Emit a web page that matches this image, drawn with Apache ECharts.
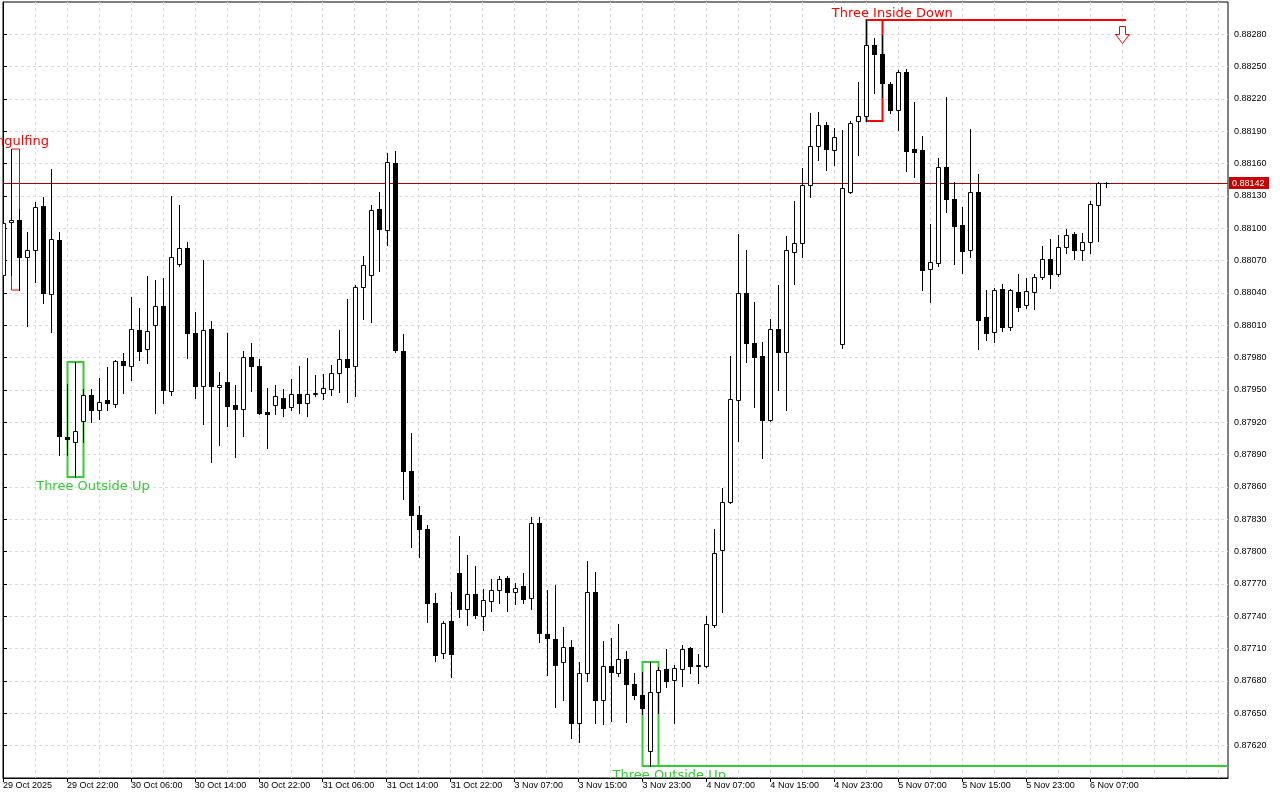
<!DOCTYPE html>
<html><head><meta charset="utf-8">
<script src="https://cdn.jsdelivr.net/npm/echarts/dist/echarts.min.js"></script>
<style>html,body{margin:0;padding:0;background:#fff}#chart{width:1280px;height:800px}</style>
</head><body><div id="chart"></div>
<script>
// ---- data (hourly bars, 29 Oct 14:00 .. 6 Nov 08:00) ----
const openP = [0.88057,0.88106,0.88108,0.88073,0.88080,0.88121,0.88039,0.88089,0.87906,0.87902,
0.87921,0.87945,0.87931,0.87941,0.87937,0.87977,0.87972,0.88006,0.87988,0.88010,
0.88028,0.87949,0.88067,0.88082,0.88003,0.87954,0.88007,0.87953,0.87957,0.87936,
0.87932,0.87981,0.87972,0.87930,0.87936,0.87943,0.87934,0.87946,0.87938,0.87946,
0.87947,0.87951,0.87966,0.87979,0.87972,0.88046,0.88057,0.88118,0.88098,0.88161,
0.87986,0.87875,0.87834,0.87821,0.87752,0.87706,0.87736,0.87780,0.87747,0.87761,
0.87740,0.87754,0.87764,0.87776,0.87763,0.87768,0.87757,0.87827,0.87724,0.87719,
0.87698,0.87712,0.87641,0.87687,0.87763,0.87662,0.87694,0.87687,0.87700,0.87677,
0.87667,0.87615,0.87670,0.87691,0.87681,0.87691,0.87711,0.87694,0.87694,0.87732,
0.87802,0.87846,0.87941,0.88040,0.87994,0.87982,0.87922,0.88007,0.87985,0.88078,
0.88086,0.88140,0.88176,0.88196,0.88173,0.87993,0.88134,0.88200,0.88204,0.88270,
0.88262,0.88234,0.88210,0.88245,0.88174,0.88173,0.88062,0.88068,0.88157,0.88127,
0.88103,0.88080,0.88134,0.88018,0.88004,0.88044,0.88008,0.88041,0.88029,0.88041,
0.88055,0.88072,0.88058,0.88083,0.88095,0.88080,0.88087,0.88122,0.88142];
const highP = [0.88110,0.88174,0.88118,0.88097,0.88124,0.88129,0.88155,0.88097,0.87956,0.87976,
0.87951,0.87951,0.87961,0.87971,0.87978,0.87984,0.88036,0.88026,0.88056,0.88052,
0.88054,0.88130,0.88122,0.88087,0.88022,0.88071,0.88014,0.87967,0.88003,0.87955,
0.87986,0.87994,0.87979,0.87952,0.87955,0.87951,0.87960,0.87972,0.87980,0.87964,
0.87965,0.87973,0.88006,0.88034,0.88047,0.88074,0.88122,0.88134,0.88170,0.88172,
0.88002,0.87910,0.87842,0.87825,0.87762,0.87736,0.87763,0.87815,0.87797,0.87787,
0.87765,0.87775,0.87777,0.87777,0.87771,0.87780,0.87832,0.87832,0.87764,0.87769,
0.87730,0.87718,0.87698,0.87791,0.87781,0.87717,0.87720,0.87733,0.87708,0.87687,
0.87688,0.87698,0.87693,0.87710,0.87695,0.87713,0.87712,0.87705,0.87740,0.87821,
0.87859,0.87982,0.88095,0.88080,0.88032,0.87995,0.88016,0.88047,0.88093,0.88125,
0.88156,0.88207,0.88208,0.88199,0.88193,0.88191,0.88200,0.88236,0.88293,0.88277,
0.88279,0.88236,0.88247,0.88248,0.88217,0.88186,0.88104,0.88165,0.88222,0.88143,
0.88120,0.88192,0.88150,0.88043,0.88045,0.88048,0.88044,0.88058,0.88054,0.88058,
0.88084,0.88090,0.88094,0.88099,0.88097,0.88096,0.88125,0.88143,0.88143];
const lowP = [0.88052,0.88057,0.88043,0.88009,0.88050,0.88031,0.88004,0.87890,0.87890,0.87869,
0.87902,0.87920,0.87923,0.87931,0.87934,0.87947,0.87959,0.87978,0.87975,0.87929,
0.87938,0.87945,0.88065,0.87980,0.87943,0.87918,0.87883,0.87899,0.87917,0.87888,
0.87907,0.87949,0.87928,0.87896,0.87928,0.87926,0.87931,0.87929,0.87926,0.87944,
0.87942,0.87945,0.87948,0.87939,0.87944,0.88016,0.88013,0.88060,0.88085,0.87985,
0.87849,0.87804,0.87795,0.87735,0.87699,0.87701,0.87684,0.87739,0.87732,0.87738,
0.87727,0.87745,0.87752,0.87745,0.87751,0.87752,0.87747,0.87716,0.87686,0.87656,
0.87662,0.87627,0.87623,0.87680,0.87641,0.87640,0.87643,0.87685,0.87642,0.87663,
0.87649,0.87601,0.87650,0.87674,0.87641,0.87675,0.87687,0.87678,0.87693,0.87730,
0.87744,0.87845,0.87903,0.87976,0.87934,0.87887,0.87921,0.87950,0.87931,0.88048,
0.88073,0.88129,0.88163,0.88154,0.88159,0.87989,0.88133,0.88168,0.88200,0.88226,
0.88222,0.88207,0.88191,0.88153,0.88148,0.88043,0.88032,0.88065,0.88115,0.88067,
0.88059,0.88073,0.87988,0.87996,0.87995,0.88005,0.88006,0.88023,0.88026,0.88025,
0.88053,0.88045,0.88056,0.88077,0.88072,0.88071,0.88077,0.88088,0.88138];
const closeP = [0.88105,0.88108,0.88073,0.88080,0.88120,0.88040,0.88090,0.87907,0.87905,0.87912,
0.87945,0.87931,0.87939,0.87938,0.87977,0.87973,0.88007,0.87986,0.88005,0.88028,
0.87950,0.88073,0.88082,0.88003,0.87954,0.88006,0.87954,0.87955,0.87935,0.87932,
0.87981,0.87972,0.87929,0.87928,0.87944,0.87933,0.87946,0.87938,0.87946,0.87947,
0.87952,0.87966,0.87979,0.87971,0.88046,0.88066,0.88117,0.88099,0.88162,0.87987,
0.87875,0.87834,0.87821,0.87752,0.87704,0.87734,0.87705,0.87747,0.87761,0.87741,
0.87755,0.87764,0.87775,0.87763,0.87766,0.87756,0.87827,0.87725,0.87720,0.87695,
0.87712,0.87641,0.87687,0.87763,0.87662,0.87694,0.87688,0.87700,0.87677,0.87667,
0.87655,0.87670,0.87690,0.87680,0.87692,0.87710,0.87694,0.87695,0.87733,0.87799,
0.87846,0.87942,0.88040,0.87994,0.87981,0.87922,0.88007,0.87985,0.88080,0.88086,
0.88140,0.88176,0.88196,0.88174,0.88185,0.88137,0.88198,0.88204,0.88270,0.88262,
0.88235,0.88210,0.88245,0.88172,0.88171,0.88061,0.88069,0.88157,0.88127,0.88102,
0.88079,0.88134,0.88015,0.88003,0.88043,0.88008,0.88043,0.88027,0.88042,0.88055,
0.88072,0.88058,0.88083,0.88094,0.88080,0.88087,0.88123,0.88142,0.88142];
const timeTickLabels = ['29 Oct 2025','29 Oct 22:00','30 Oct 06:00','30 Oct 14:00','30 Oct 22:00',
'31 Oct 06:00','31 Oct 14:00','31 Oct 22:00','3 Nov 07:00','3 Nov 15:00','3 Nov 23:00',
'4 Nov 07:00','4 Nov 15:00','4 Nov 23:00','5 Nov 07:00','5 Nov 15:00','5 Nov 23:00','6 Nov 07:00'];
const barsPerTimeLabel = 8;
const priceMin = 0.87590, priceMax = 0.88310, priceStep = 0.00030;
const lastPrice = 0.88142;
// candlestick patterns: bar range and price range
const patternNames = ['Bearish Engulfing','Three Outside Up','Three Outside Up','Three Inside Down'];
const patternFrom = [1, 8, 80, 108];
const patternTo = [2, 10, 82, 110];
const patternHigh = [0.88174, 0.87976, 0.87698, 0.88293];
const patternLow = [0.88043, 0.87869, 0.87601, 0.88200];
const patternBullish = [false, true, true, false];

// ---- presentation ----
const RED = '#ff0000', GREEN = '#32cd32';
const patternStyle = [
  {lw: 1, textAt: 5.75, textDy: -7, align: 'right', clipText: false, extend: null, arrowAt: null},
  {lw: 2, textAt: 11.25, textDy: 10, align: 'center', clipText: true, extend: null, arrowAt: null},
  {lw: 2, textAt: 83.35, textDy: 10, align: 'center', clipText: true, extend: 'edge', arrowAt: null},
  {lw: 2, textAt: 111.25, textDy: -6, align: 'center', clipText: true, extend: 140.5, arrowAt: 140}
];
const nBars = openP.length;
const xMax = 1226 / 8;
const candleData = openP.map((o, i) => [i, o, highP[i], lowP[i], closeP[i]]);
const labelIdx = timeTickLabels.map((_, k) => k * barsPerTimeLabel);

function renderCandle(params, api) {
  const i = api.value(0), o = api.value(1), h = api.value(2), l = api.value(3), c = api.value(4);
  const po = api.coord([i, o]), pc = api.coord([i, c]), ph = api.coord([i, h]), pl = api.coord([i, l]);
  const x = Math.round(po[0]);
  const yO = Math.round(po[1]), yC = Math.round(pc[1]);
  const top = Math.min(yO, yC), bot = Math.max(yO, yC);
  const ch = [{type: 'line', shape: {x1: x + 0.5, y1: Math.round(ph[1]), x2: x + 0.5, y2: Math.round(pl[1]) + 1},
    style: {stroke: '#000', lineWidth: 1}}];
  if (bot - top < 1) {
    ch.push({type: 'line', shape: {x1: x - 2, y1: top + 0.5, x2: x + 3, y2: top + 0.5}, style: {stroke: '#000', lineWidth: 1}});
  } else if (c > o) {
    ch.push({type: 'rect', shape: {x: x - 1.5, y: top + 0.5, width: 4, height: bot - top}, style: {fill: '#fff', stroke: '#000', lineWidth: 1}});
  } else {
    ch.push({type: 'rect', shape: {x: x - 2, y: top, width: 5, height: bot - top + 1}, style: {fill: '#000'}});
  }
  return {type: 'group', children: ch};
}

function patternText(k, api) {
  const st = patternStyle[k];
  const bull = patternBullish[k];
  const ay = Math.round(api.coord([patternFrom[k], patternHigh[k]])[1]);
  const by = Math.round(api.coord([patternTo[k], patternLow[k]])[1]);
  const tx = api.coord([st.textAt, patternHigh[k]])[0];
  return {type: 'text', x: tx, y: (bull ? by : ay) + st.textDy, style: {text: patternNames[k], fill: bull ? GREEN : RED,
    font: '13px "DejaVu Sans"', align: st.align, verticalAlign: 'middle'}};
}

function renderPattern(params, api) {
  const k = api.value(0);
  const st = patternStyle[k];
  const cs = params.coordSys;
  const a = api.coord([patternFrom[k], patternHigh[k]]);
  const b = api.coord([patternTo[k], patternLow[k]]);
  const bull = patternBullish[k];
  const color = bull ? GREEN : RED;
  const ax = Math.round(a[0]) + 0.5, bx = Math.round(b[0]) + 0.5;
  const ay = Math.round(a[1]), by = Math.round(b[1]);
  const ch = [{type: 'rect', shape: {x: ax, y: ay, width: bx - ax, height: by - ay},
    style: {fill: 'none', stroke: color, lineWidth: st.lw}}];
  if (st.extend !== null) {
    const yl = bull ? by : ay;
    const xe = st.extend === 'edge' ? cs.x + cs.width : api.coord([st.extend, patternHigh[k]])[0];
    ch.push({type: 'line', shape: {x1: bx, y1: yl, x2: xe, y2: yl}, style: {stroke: color, lineWidth: st.lw}});
  }
  if (st.clipText) ch.push(patternText(k, api));
  if (st.arrowAt !== null) {
    const cx = Math.round(api.coord([st.arrowAt, patternHigh[k]])[0]) + 0.5;
    const t = ay + 6.5;
    ch.push({type: 'polygon', shape: {points: [[cx - 3, t], [cx + 3, t], [cx + 3, t + 8], [cx + 7, t + 8], [cx, t + 17], [cx - 7, t + 8], [cx - 3, t + 8]]},
      style: {fill: '#fff', stroke: RED, lineWidth: 1}});
  }
  return {type: 'group', children: ch};
}

function renderFreeText(params, api) {
  const k = api.value(0);
  if (patternStyle[k].clipText) return {type: 'group', children: []};
  return patternText(k, api);
}

function renderLastPrice(params, api) {
  const cs = params.coordSys;
  const y = Math.round(api.coord([0, api.value(1)])[1]) + 0.5;
  const xr = cs.x + cs.width;
  return {type: 'group', children: [
    {type: 'line', shape: {x1: cs.x, y1: y, x2: xr, y2: y}, style: {stroke: '#b00000', lineWidth: 1}},
    {type: 'rect', shape: {x: xr + 1, y: y - 6.5, width: 40, height: 12}, style: {fill: '#c80000'}},
    {type: 'text', x: xr + 4, y: y, style: {text: api.value(1).toFixed(5), fill: '#fff',
      font: '9px "Liberation Sans", Arial, sans-serif', align: 'left', verticalAlign: 'middle'}}
  ]};
}

const gridLine = {color: '#dadada', type: [3, 3], width: 1};
const axisFont = {fontFamily: '"Liberation Sans", Arial, sans-serif', fontSize: 9, color: '#000'};

const chart = echarts.init(document.getElementById('chart'), null, {renderer: 'canvas'});
chart.setOption({
  animation: false,
  backgroundColor: '#fff',
  grid: {left: 2, right: 52, top: 2, bottom: 22, show: true, borderColor: '#000', borderWidth: 1, backgroundColor: 'transparent'},
  xAxis: [
    {type: 'value', min: 0, max: xMax, interval: 4, position: 'bottom',
     axisLine: {show: false}, axisTick: {show: false}, axisLabel: {show: false},
     splitLine: {show: true, showMinLine: false, showMaxLine: false, lineStyle: gridLine}},
    {type: 'value', min: 0, max: xMax, position: 'bottom',
     axisLine: {show: true, lineStyle: {color: '#000', width: 1}},
     axisTick: {show: true, length: 4, customValues: labelIdx, lineStyle: {color: '#000'}},
     axisLabel: Object.assign({show: true, customValues: labelIdx, align: 'left', margin: 3,
       formatter: v => timeTickLabels[Math.round(v / barsPerTimeLabel)] || ''}, axisFont),
     splitLine: {show: false}}
  ],
  yAxis: {type: 'value', position: 'right', min: priceMin, max: priceMax, interval: priceStep,
    axisLine: {show: true, lineStyle: {color: '#000', width: 1}},
    axisTick: {show: true, length: 4, lineStyle: {color: '#000'}},
    axisLabel: Object.assign({showMinLabel: false, showMaxLabel: false, margin: 6,
      formatter: v => v.toFixed(5)}, axisFont),
    splitLine: {show: true, showMinLine: false, showMaxLine: false, lineStyle: gridLine}},
  series: [
    {type: 'custom', name: 'last', xAxisIndex: 1, yAxisIndex: 0, clip: false, silent: true,
     data: [[nBars - 1, lastPrice]], renderItem: renderLastPrice, z: 2},
    {type: 'custom', name: 'patterns', xAxisIndex: 1, yAxisIndex: 0, clip: true, silent: true,
     data: patternNames.map((_, k) => [k]), renderItem: renderPattern, z: 3},
    {type: 'custom', name: 'pattern labels', xAxisIndex: 1, yAxisIndex: 0, clip: false, silent: true,
     data: patternNames.map((_, k) => [k]), renderItem: renderFreeText, z: 3},
    {type: 'custom', name: 'EURGBP H1', xAxisIndex: 1, yAxisIndex: 0, clip: true, silent: true,
     data: candleData, encode: {x: 0, y: [1, 2, 3, 4]}, renderItem: renderCandle, z: 4}
  ]
});
</script></body></html>
